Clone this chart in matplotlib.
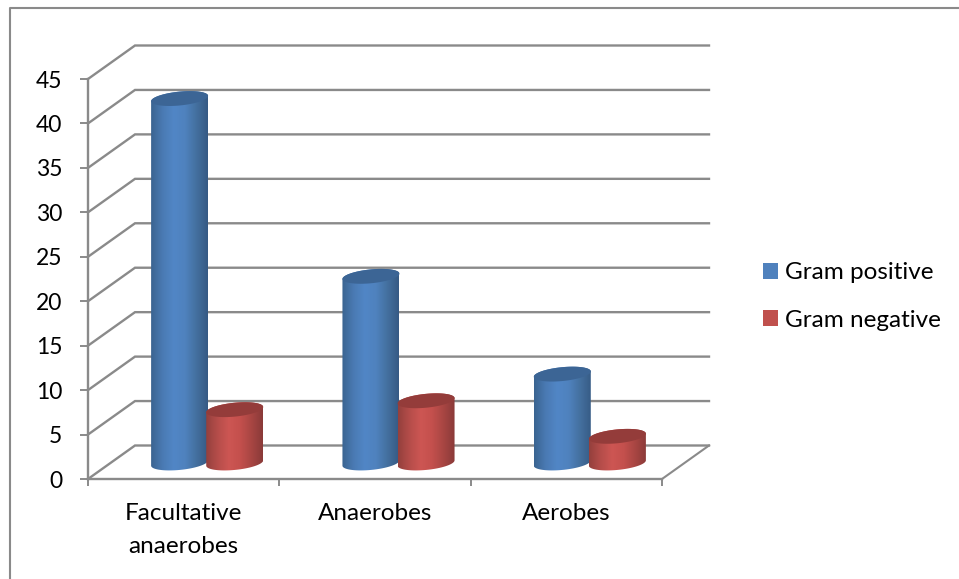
import numpy as np
import matplotlib
matplotlib.use('Agg')
import matplotlib.pyplot as plt
from matplotlib.colors import LinearSegmentedColormap
from matplotlib.patches import Patch, PathPatch, Polygon
from matplotlib.path import Path
from matplotlib.lines import Line2D

categories = ['Facultative\nanaerobes', 'Anaerobes', 'Aerobes']
gram_positive = [41, 21, 10]
gram_negative = [6, 7, 3]
y_ticks = [0, 5, 10, 15, 20, 25, 30, 35, 40, 45]

W, H = 959, 579
GREY = '#8a8a8a'

plt.rcParams['font.family'] = ['Lato', 'DejaVu Sans']

fig = plt.figure(figsize=(W / 100, H / 100), dpi=100)
# plot box in pixels: x 88..662, y 479 (zero) up to 79 (45)
ax = fig.add_axes([88 / W, 1 - 479 / H, 574 / W, 400 / H])
ax.set_xlim(0, 3)
ax.set_ylim(0, 45)
ax.patch.set_visible(False)

# depth of the fake 3d box, in data units
depth_x = 47 / 574 * 3
depth_y = 33.5 / 400 * 45

for v in y_ticks:
    ax.plot([0, depth_x, 3 + depth_x], [v, v + depth_y, v + depth_y], color=GREY, lw=1.7,
            clip_on=False, zorder=1, solid_joinstyle='miter')
ax.plot([3, 3 + depth_x], [0, depth_y], color=GREY, lw=1.5, clip_on=False, zorder=1)

for s in ['top', 'right']:
    ax.spines[s].set_visible(False)
for s in ['left', 'bottom']:
    ax.spines[s].set_color(GREY)
    ax.spines[s].set_linewidth(1.7)

ax.set_yticks(y_ticks)
ax.set_xticks([0, 1, 2, 3])
ax.set_xticklabels([])
ax.set_xticks([0.5, 1.5, 2.5], labels=categories, minor=True)
ax.tick_params(axis='y', length=6, width=1.4, color=GREY, labelsize=16.5, pad=12.5, labelcolor='black')
ax.tick_params(axis='x', which='major', length=5, width=1.4, color=GREY)
ax.tick_params(axis='x', which='minor', length=0, labelsize=17.5, pad=17.5, labelcolor='black')
for lbl in ax.get_xticklabels(minor=True):
    lbl.set_linespacing(1.7)

blue_cmap = LinearSegmentedColormap.from_list('blue3d', ['#3a6491', '#4a7ab3', '#5186c6', '#4f82be', '#44709f', '#365a84'])
red_cmap = LinearSegmentedColormap.from_list('red3d', ['#94403d', '#b54d4a', '#cd5653', '#c4504d', '#a84643', '#8a3a38'])

cyl_half = 28.5 / 574 * 3    # cylinder radius along x
ell_h = 0.78                 # ellipse half height, value units
ell_tilt = 0.3               # right side of the ellipse sits higher
base_y = 16 / 400 * 45       # base centre above the zero line
t = np.linspace(0, 2 * np.pi, 121)


def ellipse_pts(cx, cy, tt):
    return np.column_stack([cx + cyl_half * np.cos(tt),
                            cy + ell_h * np.sin(tt) + ell_tilt * np.cos(tt)])


def cylinder(cx, value, cmap, top_color, z):
    top = base_y + value
    # body outline: top half is cut by the cap drawn afterwards
    lower = ellipse_pts(cx, base_y, np.linspace(np.pi, 2 * np.pi, 60))
    upper = ellipse_pts(cx, top, np.linspace(0, np.pi, 60))
    verts = np.vstack([lower, upper, lower[:1]])
    body = PathPatch(Path(verts), facecolor='none', edgecolor='none', transform=ax.transData)
    ax.add_patch(body)
    grad = np.linspace(0, 1, 128).reshape(1, -1)
    im = ax.imshow(grad, cmap=cmap, aspect='auto', zorder=z, interpolation='bilinear',
                   extent=[cx - cyl_half, cx + cyl_half, base_y - 2, top + 2])
    im.set_clip_path(body)
    cap = Polygon(ellipse_pts(cx, top, t), closed=True, facecolor=top_color, edgecolor='none', zorder=z + 0.1)
    ax.add_patch(cap)


# bars sit in the middle of the floor depth
for i in range(3):
    mid = i + 0.5 + depth_x / 2
    cylinder(mid - 0.144, gram_positive[i], blue_cmap, '#3c6595', 3 + i)
    cylinder(mid + 0.144, gram_negative[i], red_cmap, '#943c3a', 3.5 + i)

# imshow resets the limits
ax.set_xlim(0, 3)
ax.set_ylim(0, 45)

handles = [Patch(facecolor='#4f81bd', label='Gram positive'),
           Patch(facecolor='#c0504d', label='Gram negative')]
ax.legend(handles=handles, loc='center left', bbox_to_anchor=(763 / W, 1 - 296.5 / H),
          bbox_transform=fig.transFigure, frameon=False, fontsize=17.5,
          handlelength=0.62, handleheight=0.6, handletextpad=0.29, labelspacing=1.07,
          borderpad=0, borderaxespad=0)

# outer chart frame, only left and top show
fig.add_artist(Line2D([9.5 / W, 9.5 / W, 1], [0, 1 - 7.5 / H, 1 - 7.5 / H], color=GREY, lw=1.5,
                      transform=fig.transFigure))

fig.savefig('out.png', dpi=100)
